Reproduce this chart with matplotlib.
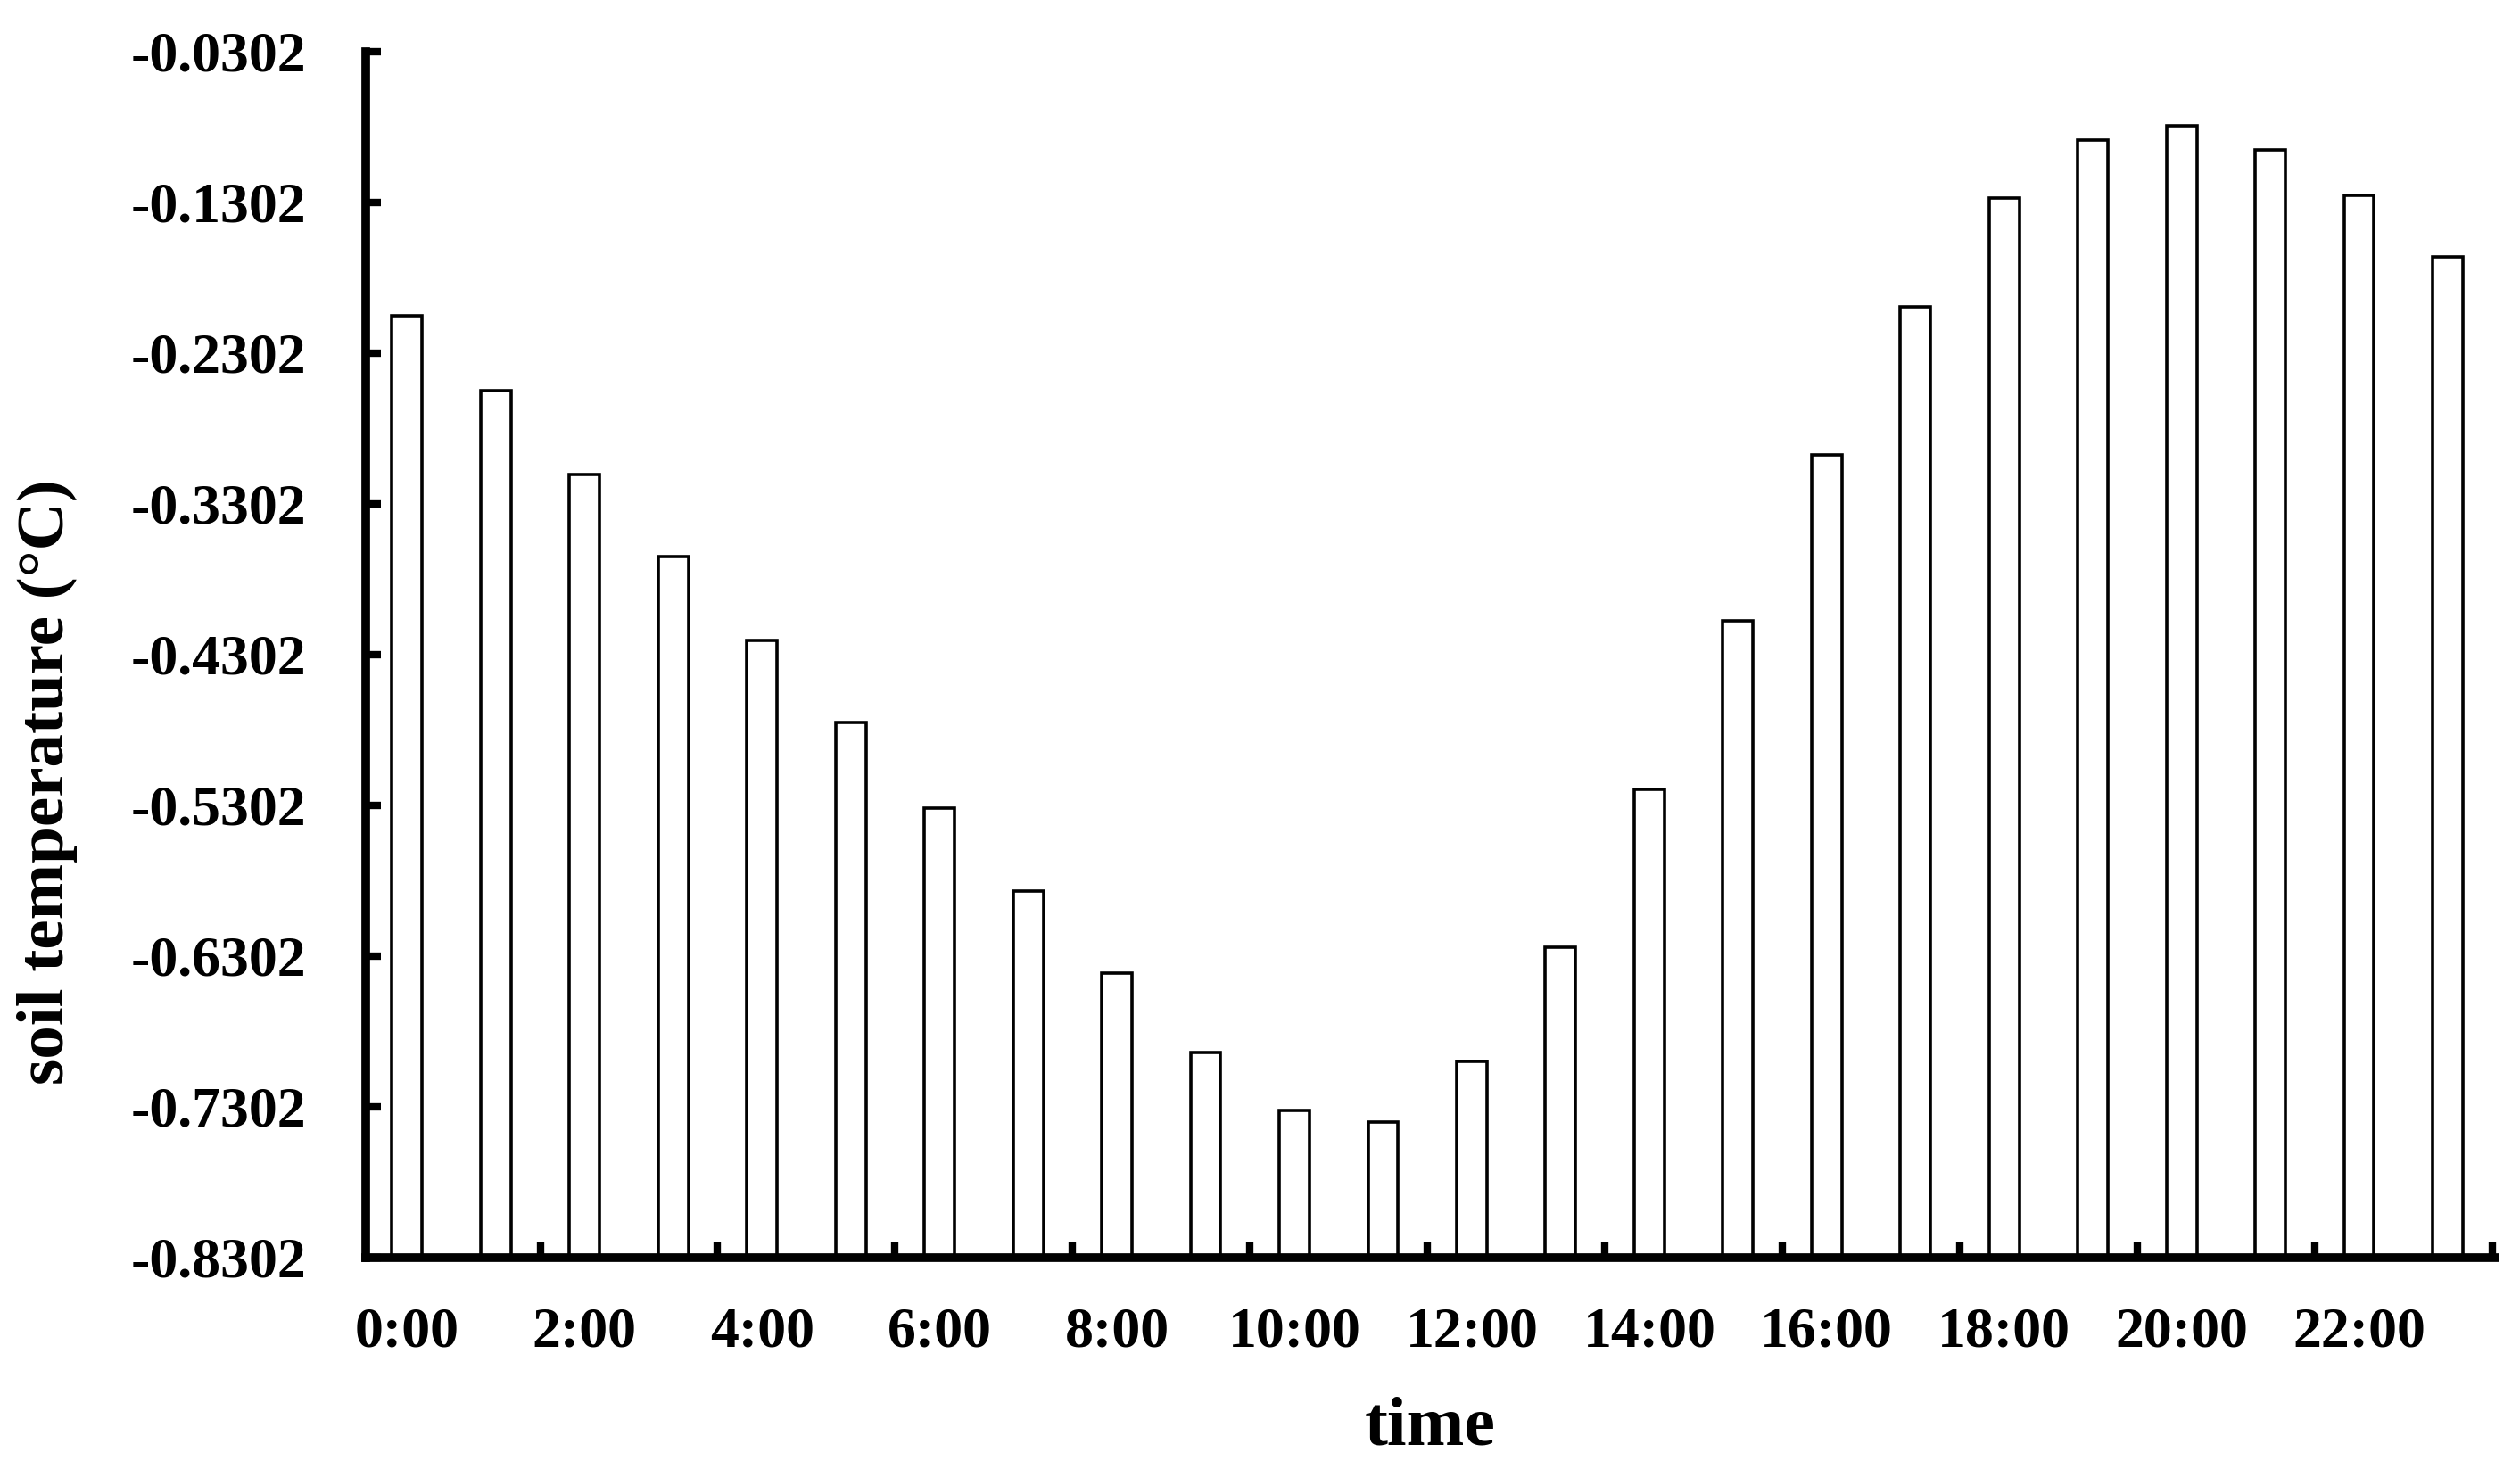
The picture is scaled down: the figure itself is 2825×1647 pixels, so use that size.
import numpy as np
import matplotlib
matplotlib.use('Agg')
import matplotlib.pyplot as plt

# dados
hours = ['0:00', '1:00', '2:00', '3:00', '4:00', '5:00', '6:00', '7:00',
         '8:00', '9:00', '10:00', '11:00', '12:00', '13:00', '14:00', '15:00',
         '16:00', '17:00', '18:00', '19:00', '20:00', '21:00', '22:00', '23:00']
soil_temp = [-0.2058, -0.2550, -0.3107, -0.3653, -0.4210, -0.4756, -0.5323, -0.5869,
             -0.6415, -0.6940, -0.7326, -0.7401, -0.7004, -0.6244, -0.5195, -0.4081,
             -0.2979, -0.1994, -0.1276, -0.0891, -0.0795, -0.0955, -0.1255, -0.1662]
y_ticks = [-0.8302, -0.7302, -0.6302, -0.5302, -0.4302, -0.3302, -0.2302, -0.1302, -0.0302]

plt.rcParams['font.family'] = ['Liberation Serif', 'DejaVu Serif']
plt.rcParams['font.weight'] = 'bold'

fig = plt.figure(figsize=(28.25, 16.47), dpi=100)
ax = fig.add_axes([0.145, 0.144, 0.845, 0.821])

base = y_ticks[0]
index = np.arange(len(hours))
heights = np.array(soil_temp) - base
ax.bar(index, heights, bottom=base, width=0.34, color='white',
       edgecolor='black', linewidth=2.6)

ax.set_xlim(-0.47, 23.53)
ax.set_ylim(y_ticks[0], y_ticks[-1])

# eixos
for s in ['top', 'right']:
    ax.spines[s].set_visible(False)
for s in ['left', 'bottom']:
    ax.spines[s].set_linewidth(7)

ax.set_yticks(y_ticks)
ax.set_yticklabels(['%.4f' % v for v in y_ticks], fontsize=46, fontweight='bold')
ax.tick_params(axis='y', direction='in', length=12, width=6, pad=48)

# ticks entre as barras, rotulos a cada 2 horas
ax.set_xticks(index[1::2] + 0.5)
ax.set_xticklabels([])
ax.tick_params(axis='x', which='major', direction='in', length=12, width=6)
ax.set_xticks(index[::2], minor=True)
ax.set_xticklabels(hours[::2], minor=True, fontsize=46, fontweight='bold')
ax.tick_params(axis='x', which='minor', length=0, pad=40)

ax.set_xlabel('time', fontsize=56, fontweight='bold', labelpad=30)
ax.set_ylabel('soil temperature (°C)', fontsize=54, fontweight='bold')
ax.yaxis.set_label_coords(-0.135, 0.394)

fig.savefig('out.png', dpi=100)
